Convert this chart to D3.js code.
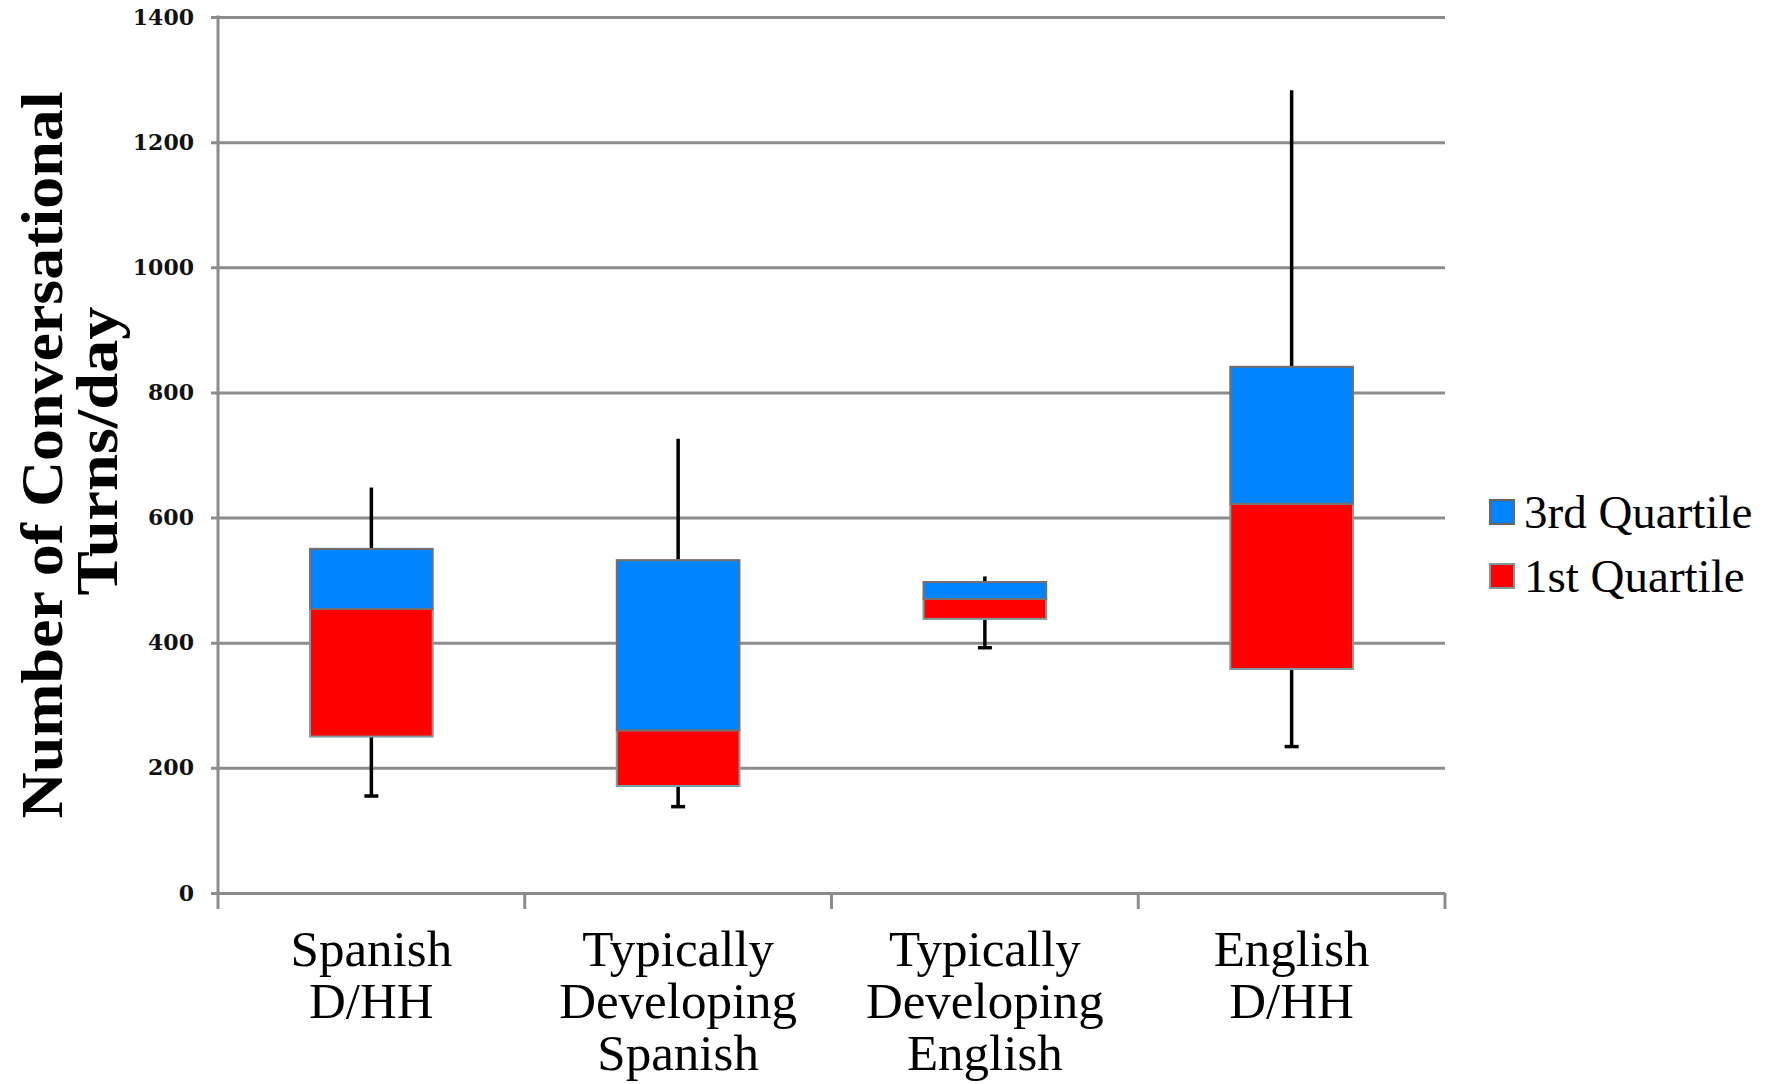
<!DOCTYPE html>
<html>
<head>
<meta charset="utf-8">
<script src="https://cdn.jsdelivr.net/npm/d3@7"></script>
<style>
  html, body { margin: 0; padding: 0; background: #ffffff; }
  svg { display: block; }
</style>
</head>
<body>
<svg id="chart" width="1777" height="1084"></svg>
<script>
// Groups shown along the horizontal axis (each line of a label is one entry)
const categories = [
  ["Spanish", "D/HH"],
  ["Typically", "Developing", "Spanish"],
  ["Typically", "Developing", "English"],
  ["English", "D/HH"]
];
const groupKeys = ["sp-dhh", "td-sp", "td-en", "en-dhh"];

// Conversational turns per day, summary statistics per group
const minimum = [155, 138, 392, 234];
const q1      = [250, 171, 438, 358];
const median  = [454, 260, 470, 622];
const q3      = [550, 532, 497, 841];
const maximum = [648, 726, 506, 1283];

const yTicks = [0, 200, 400, 600, 800, 1000, 1200, 1400];

const legendItems = ["3rd Quartile", "1st Quartile"];

const svg = d3.select("#chart");

const plot = { left: 218, right: 1445, top: 17, bottom: 893 };

const y = d3.scaleLinear().domain([0, 1400]).range([plot.bottom, plot.top]);

// Boxes sit in the middle 40% of each category slot
const xBox = d3.scaleBand()
  .domain(groupKeys)
  .range([plot.left, plot.right])
  .paddingInner(0.6)
  .paddingOuter(0.3);

const xCat = d3.scaleBand()
  .domain(groupKeys)
  .range([plot.left, plot.right])
  .padding(0);

const gridColor = "#8c8c8c";
const blue = "#0084ff";
const red = "#ff0000";

// Horizontal gridlines with small ticks to the left of the axis
const yAxis = d3.axisLeft(y)
  .tickValues(yTicks)
  .tickSize(-(plot.right - plot.left))
  .tickSizeOuter(0)
  .tickPadding(24)
  .tickFormat(d3.format("d"));

const gy = svg.append("g")
  .attr("transform", `translate(${plot.left},0)`)
  .call(yAxis);
gy.select(".domain").remove();
gy.selectAll(".tick line")
  .attr("x1", -7)
  .attr("stroke", gridColor)
  .attr("stroke-width", 3);
gy.selectAll(".tick text")
  .attr("font-family", "'DejaVu Serif', serif")
  .attr("font-weight", "bold")
  .attr("font-size", 22)
  .attr("fill", "#111");

// Vertical axis line
svg.append("line")
  .attr("x1", plot.left).attr("x2", plot.left)
  .attr("y1", y(1400) - 1.5).attr("y2", plot.bottom + 16)
  .attr("stroke", gridColor).attr("stroke-width", 3);

// Category boundary ticks below the baseline
const edges = groupKeys.map(k => xCat(k) + xCat.bandwidth());
svg.append("g").selectAll("line")
  .data(edges)
  .join("line")
  .attr("x1", d => d).attr("x2", d => d)
  .attr("y1", plot.bottom).attr("y2", plot.bottom + 16)
  .attr("stroke", gridColor).attr("stroke-width", 3);

// Whiskers: from the box edges out to the minimum and maximum
const whiskers = svg.append("g");
groupKeys.forEach((k, i) => {
  const cx = xBox(k) + xBox.bandwidth() / 2;
  whiskers.append("line")
    .attr("x1", cx).attr("x2", cx)
    .attr("y1", y(q3[i])).attr("y2", y(maximum[i]))
    .attr("stroke", "#000").attr("stroke-width", 3.5);
  whiskers.append("line")
    .attr("x1", cx).attr("x2", cx)
    .attr("y1", y(q1[i])).attr("y2", y(minimum[i]))
    .attr("stroke", "#000").attr("stroke-width", 3.5);
  whiskers.append("line")
    .attr("x1", cx - 7).attr("x2", cx + 7)
    .attr("y1", y(minimum[i])).attr("y2", y(minimum[i]))
    .attr("stroke", "#000").attr("stroke-width", 3.5);
});

// Lower segment: first quartile to median (red)
svg.append("g").selectAll("rect")
  .data(groupKeys)
  .join("rect")
  .attr("x", k => xBox(k))
  .attr("width", xBox.bandwidth())
  .attr("y", (k, i) => y(median[i]))
  .attr("height", (k, i) => y(q1[i]) - y(median[i]))
  .attr("fill", red)
  .attr("stroke", "#7f9c9e")
  .attr("stroke-width", 2);

// Upper segment: median to third quartile (blue)
svg.append("g").selectAll("rect")
  .data(groupKeys)
  .join("rect")
  .attr("x", k => xBox(k))
  .attr("width", xBox.bandwidth())
  .attr("y", (k, i) => y(q3[i]))
  .attr("height", (k, i) => y(median[i]) - y(q3[i]))
  .attr("fill", blue)
  .attr("stroke", "#7a6e6a")
  .attr("stroke-width", 2);

// Category labels
const labelFont = "'Liberation Serif', 'Times New Roman', serif";
groupKeys.forEach((k, i) => {
  const cx = xCat(k) + xCat.bandwidth() / 2;
  const t = svg.append("text")
    .attr("text-anchor", "middle")
    .attr("font-family", labelFont)
    .attr("font-size", 51)
    .attr("fill", "#000");
  categories[i].forEach((line, j) => {
    t.append("tspan")
      .attr("x", cx)
      .attr("y", 966 + j * 52)
      .text(line);
  });
});

// Vertical axis title
const titleFont = "'Liberation Serif', 'Times New Roman', serif";
svg.append("text")
  .attr("transform", "translate(62,455) rotate(-90)")
  .attr("text-anchor", "middle")
  .attr("font-family", titleFont)
  .attr("font-weight", "bold")
  .attr("font-size", 60)
  .attr("textLength", 727)
  .attr("lengthAdjust", "spacingAndGlyphs")
  .text("Number of Conversational");
svg.append("text")
  .attr("transform", "translate(117,451) rotate(-90)")
  .attr("text-anchor", "middle")
  .attr("font-family", titleFont)
  .attr("font-weight", "bold")
  .attr("font-size", 60)
  .attr("textLength", 289)
  .attr("lengthAdjust", "spacingAndGlyphs")
  .text("Turns/day");

// Legend
const legendColors = [blue, red];
const legendStrokes = ["#6f6560", "#7a9a9a"];
const legend = svg.append("g").attr("transform", "translate(1490,500)");
legendItems.forEach((name, i) => {
  const g = legend.append("g").attr("transform", `translate(0,${i * 64})`);
  g.append("rect")
    .attr("width", 24).attr("height", 24)
    .attr("fill", legendColors[i])
    .attr("stroke", legendStrokes[i])
    .attr("stroke-width", 2);
  g.append("text")
    .attr("x", 34).attr("y", 28)
    .attr("font-family", labelFont)
    .attr("font-size", 47)
    .attr("fill", "#000")
    .text(name);
});
</script>
</body>
</html>
